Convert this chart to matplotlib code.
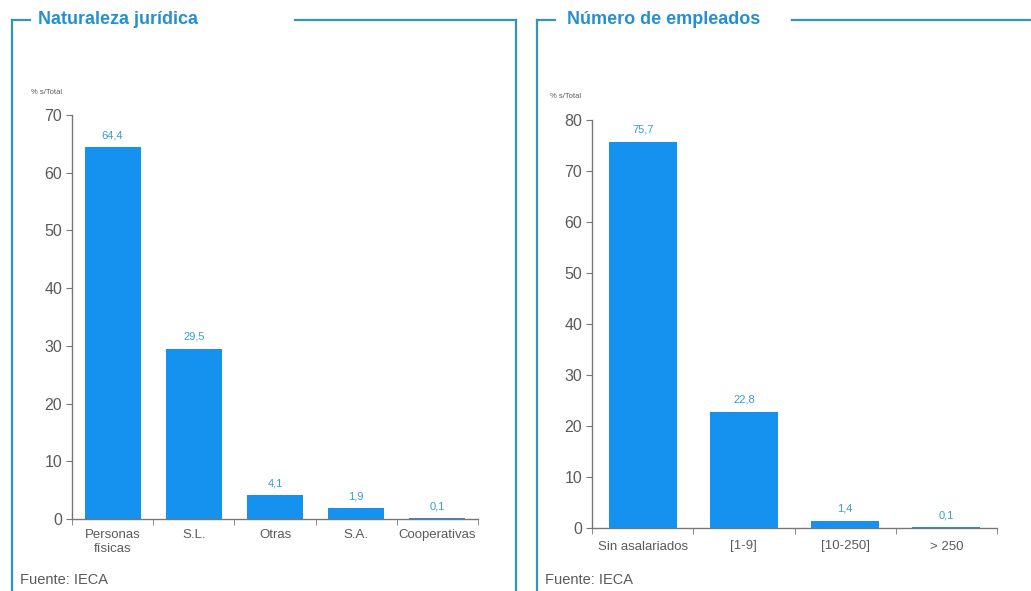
import matplotlib
matplotlib.use("Agg")
import matplotlib.pyplot as plt
from matplotlib.lines import Line2D

plt.rcParams['font.family'] = ['Liberation Sans', 'DejaVu Sans']

# left panel data
jur_labels = ["Personas\nfísicas", "S.L.", "Otras", "S.A.", "Cooperativas"]
jur_values = [64.4, 29.5, 4.1, 1.9, 0.1]

# right panel data
emp_labels = ["Sin asalariados", "[1-9]", "[10-250]", "> 250"]
emp_values = [75.7, 22.8, 1.4, 0.1]

bar_col = "#1592f0"
frame_col = "#3593bf"
title_col = "#2590d0"
lab_col = "#3a9bd0"
axis_col = "#777777"
txt_col = "#5a5a5a"

W, H = 1031, 591
fig = plt.figure(figsize=(W / 100, H / 100), dpi=100)


def px(x, y):
    return x / W, 1 - y / H


def frame(x0, x1, ytop, short_end, long_start, right=True):
    lines = [
        ([x0, x0], [ytop, H]),
        ([x0, short_end], [ytop, ytop]),
        ([long_start, x1], [ytop, ytop]),
    ]
    if right:
        lines.append(([x1, x1], [ytop, H]))
    for xs, ys in lines:
        fig.add_artist(Line2D([x / W for x in xs], [1 - y / H for y in ys],
                              color=frame_col, lw=1.6, transform=fig.transFigure))


def panel(rect, labels, values, bw, ylim, xpad):
    ax = fig.add_axes(rect)
    pos = list(range(len(values)))
    ax.bar(pos, values, width=bw, color=bar_col, zorder=2)
    for p, v in zip(pos, values):
        ax.annotate(f"{v:.1f}".replace(".", ","), (p, v), xytext=(0, 5),
                    textcoords="offset points", ha="center", va="bottom",
                    fontsize=8, color=lab_col)
    ax.set_xlim(-0.5, len(values) - 0.5)
    ax.set_ylim(0, ylim)
    ax.set_yticks(range(0, ylim + 1, 10))
    ax.set_xticks(pos)
    ax.set_xticklabels(labels, fontsize=9.5, color=txt_col, linespacing=1.3)
    ax.set_xticks([p - 0.5 for p in range(len(values) + 1)], minor=True)
    ax.tick_params(axis="x", which="major", length=0, pad=xpad)
    ax.tick_params(axis="x", which="minor", length=4, color=axis_col, direction="out")
    ax.tick_params(axis="y", length=4, color=axis_col, labelsize=11.5,
                   labelcolor=txt_col, pad=3)
    for s in ["top", "right"]:
        ax.spines[s].set_visible(False)
    for s in ["left", "bottom"]:
        ax.spines[s].set_color(axis_col)
        ax.spines[s].set_linewidth(1.0)
    return ax


panel([72 / W, 1 - 519 / H, 406 / W, 404 / H], jur_labels, jur_values, 0.69, 70, 7)
panel([592 / W, 1 - 528 / H, 405 / W, 408 / H], emp_labels, emp_values, 0.67, 80, 9)

frame(12, 516, 20, 30, 295)
frame(537, W + 5, 20, 555, 792, right=False)

fig.text(*px(38, 20), "Naturaleza jurídica", fontsize=13, fontweight="bold",
         color=title_col, va="center", ha="left")
fig.text(*px(567, 20), "Número de empleados", fontsize=13, fontweight="bold",
         color=title_col, va="center", ha="left")

fig.text(*px(31, 93), "% s/Total", fontsize=5.5, color=txt_col, va="center")
fig.text(*px(550, 97), "% s/Total", fontsize=5.5, color=txt_col, va="center")

fig.text(*px(20, 580), "Fuente: IECA", fontsize=10.5, color=txt_col, va="center")
fig.text(*px(545, 580), "Fuente: IECA", fontsize=10.5, color=txt_col, va="center")

fig.savefig("out.png", dpi=100)
